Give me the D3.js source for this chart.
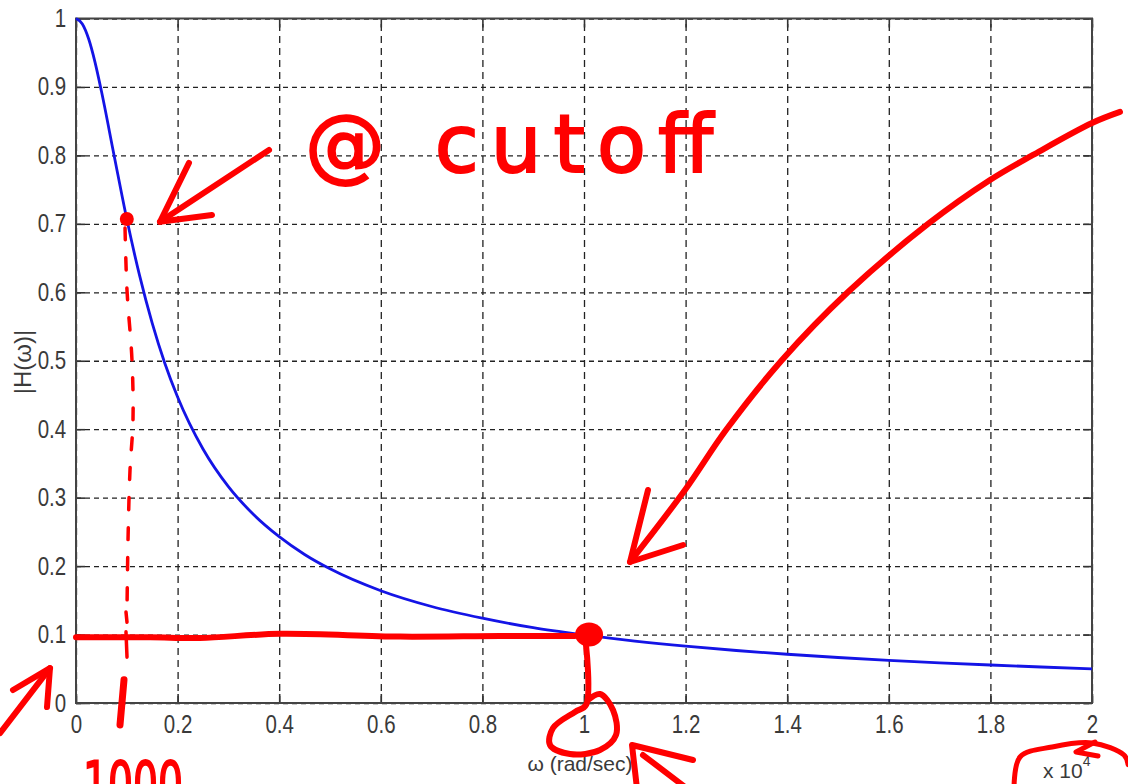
<!DOCTYPE html>
<html>
<head>
<meta charset="utf-8">
<script src="https://cdn.jsdelivr.net/npm/d3@7"></script>
<style>
  body { margin: 0; background: #fff; }
  .tick text { font-family: "Liberation Sans", Arial, sans-serif; font-size: 25px; fill: #3a3a3a; }
  .lbl { font-family: "Liberation Sans", Arial, sans-serif; fill: #3a3a3a; }
  .ink { fill: none; stroke: #f00; stroke-linecap: round; stroke-linejoin: round; }
</style>
</head>
<body>
<div id="chart"></div>
<script>
// |H(w)|, w in rad/sec
var omega = [0, 125, 250, 375, 500, 750, 1000, 1250, 1500, 1750, 2000, 2500, 3000, 3500, 4000, 4500, 5000,
             6000, 7000, 8000, 9000, 10000, 11000, 12000, 13000, 14000, 15000, 16000, 17000, 18000, 19000, 20000];
var mag = [1, 0.992, 0.970, 0.936, 0.894, 0.800, 0.707, 0.625, 0.555, 0.496, 0.447, 0.371, 0.316, 0.275, 0.243, 0.217, 0.196,
           0.164, 0.141, 0.124, 0.110, 0.0995, 0.0905, 0.083, 0.0767, 0.0712, 0.0665, 0.0624, 0.0587, 0.0555, 0.0526, 0.050];

var xTicks = [0, 2000, 4000, 6000, 8000, 10000, 12000, 14000, 16000, 18000, 20000];
var xTickLabels = ["0", "0.2", "0.4", "0.6", "0.8", "1", "1.2", "1.4", "1.6", "1.8", "2"];
var yTicks = [0, 0.1, 0.2, 0.3, 0.4, 0.5, 0.6, 0.7, 0.8, 0.9, 1];
var yTickLabels = ["0", "0.1", "0.2", "0.3", "0.4", "0.5", "0.6", "0.7", "0.8", "0.9", "1"];

// hand-drawn red marks, in (w, |H|) plot units
var inkLevel = [[0, 0.096], [1460, 0.096], [2440, 0.095], [4020, 0.101], [6380, 0.097], [8350, 0.098], [9820, 0.098]];
var inkLoop = [[10039, 0.085], [10039, -0.003], [9823, -0.013], [9390, -0.0365], [9331, -0.0614], [9724, -0.0745],
               [10315, -0.0687], [10630, -0.0468], [10571, -0.0102], [10315, 0.0131], [10079, 0.0044]];
var inkBigArrow = [[20551, 0.8635], [20000, 0.8473], [18839, 0.8006], [17992, 0.764], [16772, 0.6998],
                   [15197, 0.6004], [13898, 0.5011], [12795, 0.3988], [11988, 0.3112], [10906, 0.206]];
var inkBigHead = [[11260, 0.3112], [10906, 0.206], [11950, 0.2308]];
var inkCutArrow = [[3800, 0.808], [1654, 0.703]];
var inkCutHead = [[2224, 0.789], [1654, 0.703], [2677, 0.713]];
var inkDrop = [[965, 0.694], [1004, 0.603], [1102, 0.501], [1122, 0.413], [1063, 0.340], [1024, 0.238], [1004, 0.136]];
var inkDropBits = [[[984, 0.133], [1004, 0.118]], [[984, 0.104], [1004, 0.067]]];
var inkDropEnd = [[945, 0.034], [866, -0.032]];
var inkLowArrow = [[-1496, -0.044], [-512, 0.051]];
var inkLowHead = [[-1240, 0.019], [-512, 0.051], [-571, -0.006]];
var inkXArrow = [[12146, -0.0833], [10945, -0.0614], [11043, -0.125]];
var inkXShaft = [[11161, -0.0760], [12028, -0.125]];
var inkExpRing = [[18465, -0.13], [18583, -0.0789], [19213, -0.0643], [20000, -0.0584], [20630, -0.076], [20710, -0.09]];
var inkExpHook = [[20059, -0.057], [19685, -0.0716], [20118, -0.0774]];
var cutoffPt = [1000, 0.707];
var stopPt = [10100, 0.100];

var W = 1128, H = 784;
var pl = 76, pr = 1092, pt = 18.5, pb = 703;
var narrow = "scale(0.82,1)";

var svg = d3.select("#chart")
    .append("svg")
    .attr("width", W)
    .attr("height", H);

var x = d3.scaleLinear().domain([0, 20000]).range([pl, pr]);
var y = d3.scaleLinear().domain([0, 1]).range([pb, pt]);

// grid
svg.append("g")
    .attr("transform", "translate(0," + pb + ")")
    .call(d3.axisBottom(x).tickValues(xTicks).tickSize(-(pb - pt)).tickFormat(""))
    .call(function (g) {
        g.select(".domain").remove();
        g.selectAll("line").attr("stroke", "#222").attr("stroke-width", 1.3).attr("stroke-dasharray", "7,5");
    });
svg.append("g")
    .attr("transform", "translate(" + pl + ",0)")
    .call(d3.axisLeft(y).tickValues(yTicks).tickSize(-(pr - pl)).tickFormat(""))
    .call(function (g) {
        g.select(".domain").remove();
        g.selectAll("line").attr("stroke", "#222").attr("stroke-width", 1.3).attr("stroke-dasharray", "5,4");
    });

// axes with inward ticks on all four sides
function styleAxis(g) {
    g.select(".domain").remove();
    g.selectAll("line").attr("stroke", "#333").attr("stroke-width", 1.6);
}
svg.append("g")
    .attr("transform", "translate(0," + pb + ")")
    .call(d3.axisBottom(x).tickValues(xTicks).tickSize(-9).tickPadding(12)
        .tickFormat(function (d, i) { return xTickLabels[i]; }))
    .call(styleAxis)
    .selectAll("text").attr("transform", narrow);
svg.append("g")
    .attr("transform", "translate(0," + pt + ")")
    .call(d3.axisTop(x).tickValues(xTicks).tickSize(-9).tickFormat(""))
    .call(styleAxis);
svg.append("g")
    .attr("transform", "translate(" + pl + ",0)")
    .call(d3.axisLeft(y).tickValues(yTicks).tickSize(-9).tickPadding(12)
        .tickFormat(function (d, i) { return yTickLabels[i]; }))
    .call(styleAxis)
    .selectAll("text").attr("transform", narrow);
svg.append("g")
    .attr("transform", "translate(" + pr + ",0)")
    .call(d3.axisRight(y).tickValues(yTicks).tickSize(-9).tickFormat(""))
    .call(styleAxis);

svg.append("rect")
    .attr("x", pl).attr("y", pt)
    .attr("width", pr - pl).attr("height", pb - pt)
    .attr("fill", "none").attr("stroke", "#444").attr("stroke-width", 2);

// curve
var line = d3.line()
    .x(function (d) { return x(d[0]); })
    .y(function (d) { return y(d[1]); })
    .curve(d3.curveMonotoneX);
svg.append("path")
    .datum(d3.zip(omega, mag))
    .attr("d", line)
    .attr("fill", "none")
    .attr("stroke", "#1414e6")
    .attr("stroke-width", 2.8);

// labels
svg.append("text")
    .attr("class", "lbl")
    .attr("transform", "translate(31,362) rotate(-90)")
    .attr("text-anchor", "middle")
    .attr("font-size", 24)
    .text("|H(\u03c9)|");
svg.append("text")
    .attr("class", "lbl")
    .attr("x", 580).attr("y", 771)
    .attr("text-anchor", "middle")
    .attr("font-size", 21)
    .text("\u03c9 (rad/sec)");
var exp = svg.append("text")
    .attr("class", "lbl")
    .attr("x", 1043).attr("y", 778)
    .attr("font-size", 21)
    .text("x 10");
exp.append("tspan")
    .attr("dy", -12)
    .attr("font-size", 14)
    .text("4");

// red annotations
var ink = svg.append("g").attr("id", "ink");
var straight = d3.line()
    .x(function (d) { return x(d[0]); })
    .y(function (d) { return y(d[1]); });
var smooth = d3.line()
    .x(function (d) { return x(d[0]); })
    .y(function (d) { return y(d[1]); })
    .curve(d3.curveCatmullRom);

function stroke(pts, w, gen) {
    return ink.append("path").attr("class", "ink")
        .attr("d", (gen || straight)(pts))
        .attr("stroke-width", w);
}

stroke(inkLevel, 6, smooth);
stroke(inkLoop, 6, smooth);
stroke(inkBigArrow, 6, smooth);
stroke(inkBigHead, 6);
stroke(inkCutArrow, 6);
stroke(inkCutHead, 6);
stroke(inkDrop, 3.5, smooth).attr("stroke-dasharray", "12,18");
inkDropBits.forEach(function (b) { stroke(b, 3.5); });
stroke(inkDropEnd, 7);
stroke(inkLowArrow, 6);
stroke(inkLowHead, 6);
stroke(inkXArrow, 6);
stroke(inkXShaft, 6);
stroke(inkExpRing, 5, smooth);
stroke(inkExpHook, 5);

ink.append("circle")
    .attr("cx", x(cutoffPt[0])).attr("cy", y(cutoffPt[1]))
    .attr("r", 7).attr("fill", "#f00");
ink.append("ellipse")
    .attr("cx", x(stopPt[0])).attr("cy", y(stopPt[1]))
    .attr("rx", 14).attr("ry", 12).attr("fill", "#f00");

ink.append("text")
    .attr("x", x(4510)).attr("y", y(0.7757))
    .attr("font-family", "DejaVu Sans, sans-serif")
    .attr("font-size", 80)
    .attr("fill", "#f00")
    .attr("stroke", "#f00")
    .attr("stroke-width", 2)
    .attr("textLength", 408)
    .attr("lengthAdjust", "spacing")
    .text("@ cutoff");
ink.append("text")
    .attr("x", x(140)).attr("y", y(-0.149))
    .attr("font-family", "DejaVu Sans, sans-serif")
    .attr("font-size", 60)
    .attr("fill", "#f00")
    .attr("stroke", "#f00")
    .attr("stroke-width", 2)
    .attr("textLength", 100)
    .attr("lengthAdjust", "spacingAndGlyphs")
    .text("1000");
</script>
</body>
</html>
